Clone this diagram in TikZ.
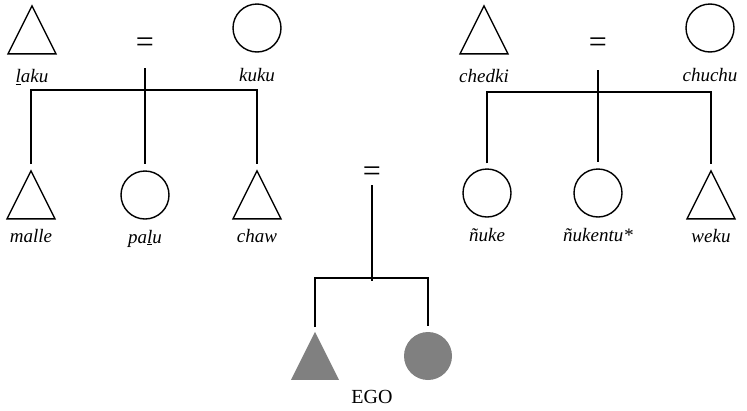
\documentclass[tikz,border=0pt]{standalone}
\usepackage{fontspec}
\setmainfont{Liberation Serif}
\usepackage{tikz}
\usetikzlibrary{shapes.geometric, positioning}
\definecolor{egogray}{RGB}{128,128,128}

\begin{document}
\begin{tikzpicture}[x=1pt, y=-1pt, node distance=10pt,
    male/.style={isosceles triangle, shape border rotate=90, isosceles triangle stretches,
                 minimum width=48pt, minimum height=48pt, inner sep=0pt, draw, line width=1.4pt,
                 anchor=apex},
    female/.style={circle, minimum size=48pt, inner sep=0pt, draw, line width=1.4pt},
    ego/.style={draw=none, fill=egogray},
    term/.style={font=\fontsize{19}{22}\selectfont\itshape, inner sep=0pt},
    marry/.style={font=\fontsize{32}{36}\selectfont, inner sep=0pt},
    kin/.style={line width=1.5pt}]
    \useasboundingbox (0,0) rectangle (747,410);

    % grandparents
    \node[male] (laku) at (32,4) {};
    \node[marry] (eq1) at (145,45) {=};
    \node[female] (kuku) at (257,28) {};
    \node[male] (chedki) at (484,4) {};
    \node[marry] (eq2) at (598,45) {=};
    \node[female] (chuchu) at (710,28) {};
    \node[term, below=15pt of laku] (lakuname) {\underline{l}aku};
    \node[term, below=15pt of kuku] (kukuname) {kuku};
    \node[term, below=15pt of chedki] (chedkiname) {chedki};
    \node[term, below=15pt of chuchu] (chuchuname) {chuchu};

    % parents' generation
    \node[male] (malle) at (31,169) {};
    \node[female] (palu) at (145,195) {};
    \node[male] (chaw) at (257,169) {};
    \node[female] (nuke) at (487,193) {};
    \node[female] (nukentu) at (598,193) {};
    \node[male] (weku) at (711,169) {};
    \node[term, below=of malle] (mallename) {malle};
    \node[term, below=of palu] (paluname) {pa\underline{l}u};
    \node[term, below=of chaw] (chawname) {chaw};
    \node[term, below=of nuke] (nukename) {ñuke};
    \node[term, below=of nukentu] (nukentuname) {ñukentu*};
    \node[term, below=of weku] (wekuname) {weku};

    % ego's generation
    \node[marry] (eq3) at (372,174) {=};
    \node[male, ego] (egom) at (315,330) {};
    \node[female, ego] (egof) at (428,356) {};
    \node[font=\fontsize{20}{23}\selectfont, inner sep=0pt] (egoname) at (372,397) {EGO};

    \coordinate (top1) at (145,68);
    \coordinate (bar1) at (145,90);
    \coordinate (top2) at (598,70);
    \coordinate (bar2) at (598,92);
    \coordinate (top3) at (372,185);
    \coordinate (bar3) at (372,278);

    \draw[kin, shorten <=5pt, shorten >=5pt] (malle.north) |- (bar1) -| (chaw.north);
    \draw[kin, shorten >=6pt] (top1) -- (palu.north);
    \draw[kin, shorten <=5pt, shorten >=5pt] (nuke.north) |- (bar2) -| (weku.north);
    \draw[kin, shorten >=6pt] (top2) -- (nukentu.north);
    \draw[kin, shorten <=3pt, shorten >=5pt] (egom.north) |- (bar3) -| (egof.north);
    \draw[kin] (top3) -- ([yshift=-3pt]bar3);
\end{tikzpicture}
\end{document}
